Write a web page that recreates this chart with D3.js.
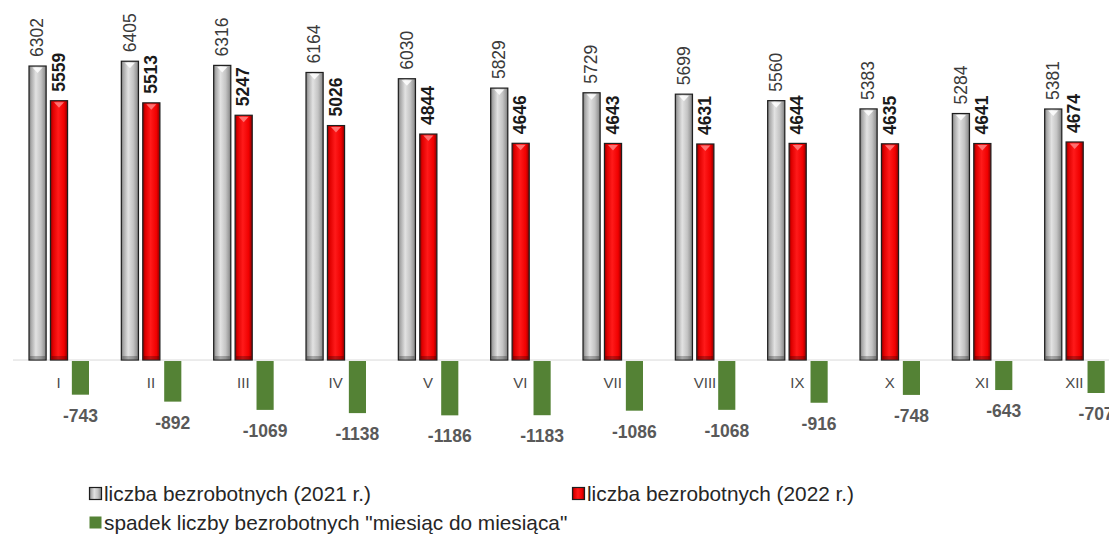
<!DOCTYPE html>
<html>
<head>
<meta charset="utf-8">
<script src="https://cdn.jsdelivr.net/npm/d3@7"></script>
<style>
  html, body { margin: 0; padding: 0; background: #fff; }
  svg { display: block; }
</style>
</head>
<body>
<svg id="chart" width="1109" height="535"></svg>
<script>
const months = ["I","II","III","IV","V","VI","VII","VIII","IX","X","XI","XII"];
const values2021 = [6302, 6405, 6316, 6164, 6030, 5829, 5729, 5699, 5560, 5383, 5284, 5381];
const values2022 = [5559, 5513, 5247, 5026, 4844, 4646, 4643, 4631, 4644, 4635, 4641, 4674];
const decline = [-743, -892, -1069, -1138, -1186, -1183, -1086, -1068, -916, -748, -643, -707];
const seriesNames = ["liczba bezrobotnych (2021 r.)", "liczba bezrobotnych (2022 r.)", "spadek liczby bezrobotnych \"miesiąc do miesiąca\""];

const svg = d3.select("#chart");
const defs = svg.append("defs");

function hGrad(id, stops) {
  const g = defs.append("linearGradient").attr("id", id)
    .attr("x1", "0%").attr("x2", "100%").attr("y1", "0%").attr("y2", "0%");
  stops.forEach(s => g.append("stop").attr("offset", s[0]).attr("stop-color", s[1]));
}
hGrad("gGray", [[0, "#777"], [0.12, "#a8a8a8"], [0.4, "#e2e2e2"], [0.7, "#c4c4c4"], [0.9, "#9a9a9a"], [1, "#707070"]]);
hGrad("gRed", [[0, "#8a0000"], [0.15, "#e00000"], [0.45, "#ff1a1a"], [0.8, "#f00000"], [1, "#8a0000"]]);

const x0 = d3.scaleBand().domain(months).range([12, 1120]).padding(0);
const x1 = d3.scaleBand().domain([0, 1, 2]).range([17, 77]).paddingInner(0.2).paddingOuter(0);
const y = d3.scaleLinear().domain([-1200, 6500]).range([416, 56.8]);
const y0 = y(0);

// baseline axis
svg.append("line")
  .attr("x1", 13).attr("x2", 1109).attr("y1", y0).attr("y2", y0)
  .attr("stroke", "#d9d9d9").attr("stroke-width", 1);

const bw = x1.bandwidth();
const font = "'Liberation Sans', Arial, sans-serif";

function drawBevelBars(vals, idx, grad, triFill, labelWeight, labelColor) {
  const g = svg.append("g");
  vals.forEach((v, i) => {
    const bx = x0(months[i]) + x1(idx);
    const top = y(v);
    g.append("rect")
      .attr("x", bx).attr("y", top).attr("width", bw).attr("height", y0 - top)
      .attr("fill", `url(#${grad})`).attr("stroke", "#1e1e1e").attr("stroke-width", 1.2);
    const cx = bx + bw / 2;
    g.append("path")
      .attr("d", `M${cx - 5},${top + 1.5} L${cx + 5},${top + 1.5} L${cx},${top + 7} Z`)
      .attr("fill", triFill);
    g.append("rect")
      .attr("x", bx + 1).attr("y", y0 - 4).attr("width", bw - 2).attr("height", 3)
      .attr("fill", "#000").attr("opacity", 0.25);
    g.append("text")
      .attr("transform", `translate(${cx + 1},${top - 9}) rotate(-90)`)
      .attr("text-anchor", "start").attr("dominant-baseline", "middle")
      .attr("font-family", font).attr("font-size", 17.5)
      .attr("font-weight", labelWeight).attr("fill", labelColor)
      .text(v);
  });
}
drawBevelBars(values2021, 0, "gGray", "rgba(255,255,255,0.85)", "normal", "#3a3a3a");
drawBevelBars(values2022, 1, "gRed", "#ff7070", "bold", "#1a1a1a");

// decline bars
const gd = svg.append("g");
decline.forEach((v, i) => {
  const bx = x0(months[i]) + x1(2);
  const bot = y(v);
  gd.append("rect")
    .attr("x", bx).attr("y", y0 + 1).attr("width", bw).attr("height", bot - y0 - 1)
    .attr("fill", "#548235");
  gd.append("text")
    .attr("x", bx + bw / 2).attr("y", bot + 27)
    .attr("text-anchor", "middle")
    .attr("font-family", font).attr("font-size", 17.5).attr("font-weight", "bold")
    .attr("fill", "#595959")
    .text(v);
});

// category labels
svg.append("g").selectAll("text").data(months).join("text")
  .attr("x", d => x0(d) + x0.bandwidth() / 2 + 0.5)
  .attr("y", 388)
  .attr("text-anchor", "middle")
  .attr("font-family", font).attr("font-size", 15)
  .attr("fill", "#4a4a4a")
  .text(d => d);

// legend
const legend = svg.append("g").attr("font-family", font).attr("font-size", 20.8).attr("fill", "#262626");
const legItems = [
  { name: seriesNames[0], x: 89, y: 501, fill: "url(#gGray)", stroke: "#1e1e1e" },
  { name: seriesNames[1], x: 572, y: 501, fill: "url(#gRed)", stroke: "#1e1e1e" },
  { name: seriesNames[2], x: 89, y: 530, fill: "#548235", stroke: "none" }
];
legItems.forEach(it => {
  legend.append("rect")
    .attr("x", it.x + 0.5).attr("y", it.y - 13.5).attr("width", 12).attr("height", 12)
    .attr("fill", it.fill).attr("stroke", it.stroke).attr("stroke-width", 1.2);
  legend.append("text").attr("x", it.x + 15).attr("y", it.y).text(it.name);
});
</script>
</body>
</html>
